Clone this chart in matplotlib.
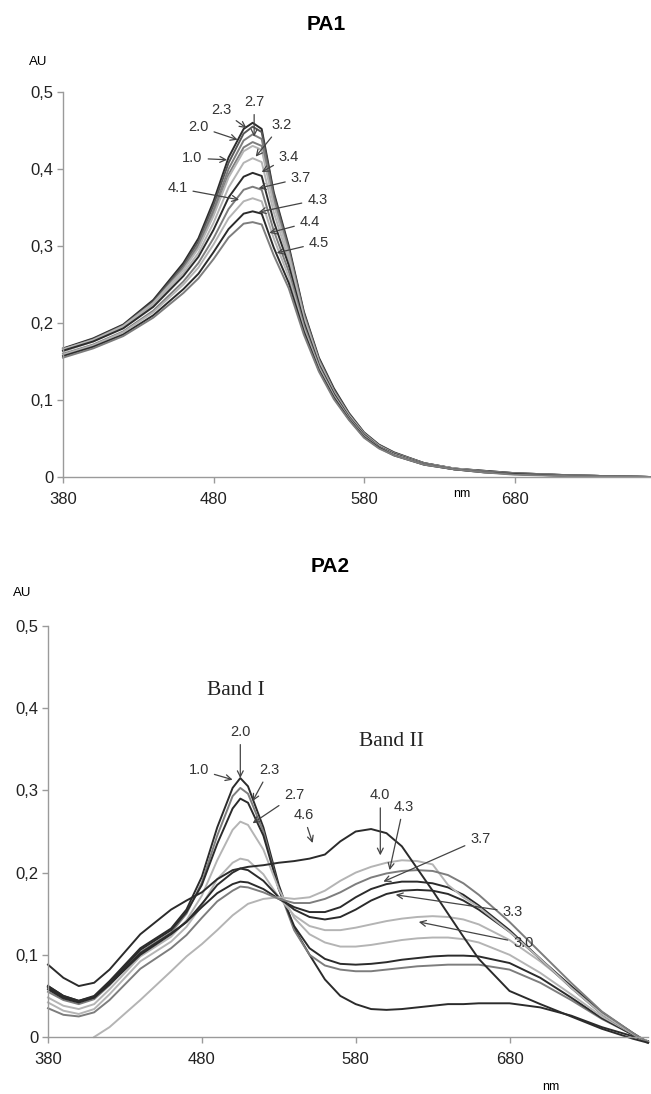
import numpy as np
import matplotlib.pyplot as plt
from matplotlib.ticker import FuncFormatter

plt.rcParams['font.family'] = ['Liberation Sans', 'DejaVu Sans']

# =============================================================================
# DATA
# =============================================================================

# PA1 : wavelengths (nm) and absorbance (AU) per pH
wl_pa1 = [380, 400, 420, 440, 460, 470, 480, 490, 500, 506, 512, 520, 530,
          540, 550, 560, 570, 580, 590, 600, 620, 640, 660, 680, 720, 770]
ph_pa1 = ["2.7", "2.3", "2.0", "1.0", "3.2", "3.4", "3.7", "4.1", "4.3", "4.4", "4.5"]
abs_pa1_27 = [.167,.180,.198,.230,.278,.310,.358,.415,.452,.460,.452,.370,.300,.215,.155,.115,.083,.058,.042,.032,.018,.011,.008,.005,.002,.000]
abs_pa1_23 = [.166,.179,.197,.228,.275,.306,.353,.408,.446,.455,.448,.367,.297,.213,.153,.113,.082,.057,.041,.031,.018,.011,.008,.005,.002,.000]
abs_pa1_20 = [.165,.178,.196,.226,.272,.302,.347,.400,.437,.445,.439,.362,.294,.211,.152,.112,.081,.057,.041,.031,.018,.011,.007,.005,.002,.000]
abs_pa1_10 = [.164,.177,.195,.225,.270,.299,.342,.393,.428,.435,.430,.357,.291,.209,.151,.111,.080,.056,.040,.031,.017,.011,.007,.004,.002,.000]
abs_pa1_32 = [.166,.178,.196,.226,.269,.297,.339,.389,.423,.430,.425,.354,.289,.208,.150,.110,.080,.056,.040,.030,.017,.011,.007,.004,.002,.000]
abs_pa1_34 = [.163,.176,.194,.223,.265,.291,.330,.376,.408,.414,.409,.344,.282,.205,.148,.109,.079,.055,.040,.030,.017,.010,.007,.004,.002,.000]
abs_pa1_37 = [.164,.176,.193,.221,.261,.286,.321,.363,.390,.395,.391,.332,.275,.201,.146,.108,.078,.055,.039,.030,.017,.010,.007,.004,.002,.000]
abs_pa1_41 = [.160,.172,.189,.216,.254,.278,.310,.348,.373,.377,.373,.320,.267,.197,.144,.106,.077,.054,.039,.029,.017,.010,.007,.004,.002,.000]
abs_pa1_43 = [.159,.171,.188,.214,.250,.272,.302,.336,.358,.362,.358,.310,.260,.193,.142,.105,.076,.053,.038,.029,.016,.010,.006,.004,.001,.000]
abs_pa1_44 = [.157,.169,.185,.210,.244,.264,.292,.322,.342,.345,.342,.298,.252,.189,.139,.103,.075,.052,.038,.028,.016,.010,.006,.004,.001,.000]
abs_pa1_45 = [.155,.167,.183,.207,.239,.258,.283,.311,.329,.331,.328,.288,.245,.185,.137,.101,.074,.051,.037,.028,.016,.010,.006,.003,.001,.000]
abs_pa1 = [abs_pa1_27, abs_pa1_23, abs_pa1_20, abs_pa1_10, abs_pa1_32, abs_pa1_34,
           abs_pa1_37, abs_pa1_41, abs_pa1_43, abs_pa1_44, abs_pa1_45]

# PA2 : wavelengths (nm) and absorbance (AU) per pH
wl_pa2 = [380, 390, 400, 410, 420, 440, 460, 470, 480, 490, 500, 505, 510, 520, 530, 540, 550,
          560, 570, 580, 590, 600, 610, 620, 630, 640, 650, 660, 680, 700, 720, 740, 760, 770]
ph_pa2 = ["1.0", "2.0", "2.3", "2.7", "3.0", "3.3", "3.7", "4.0", "4.3", "4.6"]
abs_pa2_10 = [.062,.050,.044,.050,.068,.108,.132,.155,.195,.255,.303,.315,.305,.255,.185,.132,.100,.070,.050,.040,.034,.033,.034,.036,.038,.040,.040,.041,.041,.036,.026,.012,.001,-.005]
abs_pa2_20 = [.055,.045,.040,.046,.063,.103,.127,.150,.188,.245,.293,.303,.296,.250,.180,.130,.100,.087,.082,.080,.080,.082,.084,.086,.087,.088,.088,.088,.082,.066,.045,.022,.003,-.006]
abs_pa2_23 = [.058,.047,.042,.048,.066,.106,.130,.152,.185,.235,.278,.290,.285,.245,.180,.135,.108,.095,.089,.088,.089,.091,.094,.096,.098,.099,.099,.098,.090,.072,.048,.023,.003,-.006]
abs_pa2_27 = [.048,.038,.034,.040,.058,.098,.122,.142,.172,.215,.252,.262,.258,.228,.180,.145,.125,.115,.110,.110,.112,.115,.118,.120,.121,.121,.119,.115,.100,.078,.052,.025,.004,-.006]
abs_pa2_30 = [.042,.032,.028,.034,.052,.092,.116,.134,.160,.192,.212,.217,.215,.198,.170,.148,.135,.130,.130,.133,.137,.141,.144,.146,.147,.146,.143,.137,.118,.092,.062,.030,.005,-.006]
abs_pa2_33 = [.060,.048,.043,.048,.064,.100,.125,.140,.162,.185,.200,.205,.203,.190,.170,.155,.146,.143,.146,.155,.166,.174,.178,.179,.178,.174,.166,.155,.128,.095,.062,.030,.005,-.007]
abs_pa2_37 = [.062,.050,.044,.049,.065,.102,.126,.140,.158,.175,.186,.189,.188,.180,.168,.158,.152,.152,.158,.170,.180,.186,.189,.189,.187,.182,.173,.160,.130,.095,.060,.028,.004,-.007]
abs_pa2_40 = [np.nan,np.nan,np.nan,.000,.012,.045,.080,.098,.113,.130,.148,.155,.162,.168,.170,.168,.170,.178,.190,.200,.207,.212,.215,.214,.210,.185,.170,.158,.128,.095,.060,.028,.004,-.007]
abs_pa2_43 = [.035,.027,.025,.030,.045,.083,.108,.124,.145,.165,.178,.183,.182,.176,.168,.163,.163,.168,.176,.186,.194,.199,.202,.203,.202,.197,.187,.173,.140,.103,.066,.031,.005,-.007]
abs_pa2_46 = [.088,.072,.062,.066,.082,.125,.155,.166,.176,.192,.203,.205,.207,.209,.212,.214,.217,.222,.238,.250,.253,.248,.232,.205,.178,.150,.122,.095,.056,.040,.025,.010,-.002,-.007]
abs_pa2 = [abs_pa2_10, abs_pa2_20, abs_pa2_23, abs_pa2_27, abs_pa2_30,
           abs_pa2_33, abs_pa2_37, abs_pa2_40, abs_pa2_43, abs_pa2_46]

xticks = [380, 480, 580, 680]
yticks = [0, 0.1, 0.2, 0.3, 0.4, 0.5]

# =============================================================================
# STYLE / LAYOUT
# =============================================================================

DARK, MID, LIGHT = "#2b2b2b", "#7d7d7d", "#b4b4b4"
col_pa1 = [DARK, "#555555", MID, MID, LIGHT, LIGHT, DARK, MID, LIGHT, DARK, MID]
col_pa2 = [DARK, MID, DARK, LIGHT, LIGHT, DARK, DARK, LIGHT, MID, DARK]

# label text position and arrow tip, (nm, AU)
lab_pa1 = {
    "2.7": ((507, 0.487), (507, 0.442)),
    "2.3": ((485, 0.477), (502, 0.453)),
    "2.0": ((470, 0.455), (496, 0.438)),
    "1.0": ((466, 0.414), (489, 0.412)),
    "4.1": ((456, 0.375), (497, 0.360)),
    "3.2": ((525, 0.457), (508, 0.416)),
    "3.4": ((530, 0.416), (512, 0.396)),
    "3.7": ((538, 0.388), (510, 0.375)),
    "4.3": ((549, 0.360), (510, 0.344)),
    "4.4": ((544, 0.331), (517, 0.317)),
    "4.5": ((550, 0.304), (522, 0.291)),
}
lab_pa2 = {
    "2.0": ((505, 0.371), (505, 0.315)),
    "1.0": ((478, 0.325), (500, 0.313)),
    "2.3": ((524, 0.325), (513, 0.287)),
    "2.7": ((540, 0.294), (513, 0.260)),
    "4.6": ((546, 0.270), (552, 0.236)),
    "4.0": ((596, 0.294), (596, 0.221)),
    "4.3": ((611, 0.280), (602, 0.203)),
    "3.7": ((661, 0.241), (598, 0.189)),
    "3.3": ((682, 0.152), (606, 0.173)),
    "3.0": ((689, 0.114), (621, 0.140)),
}

W, H = 651, 1094


def fmt_y(v, pos):
    if abs(v) < 1e-9:
        return "0"
    return f"{v:.1f}".replace(".", ",")


def style_axes(ax):
    ax.set_xlim(380, 770)
    ax.set_ylim(0, 0.5)
    ax.set_xticks(xticks)
    ax.set_yticks(yticks)
    ax.yaxis.set_major_formatter(FuncFormatter(fmt_y))
    for s in ["top", "right"]:
        ax.spines[s].set_visible(False)
    for s in ["left", "bottom"]:
        ax.spines[s].set_color("#9a9a9a")
        ax.spines[s].set_linewidth(1.0)
    ax.tick_params(axis="both", colors="#9a9a9a", labelcolor="#222222",
                   labelsize=12, length=4, width=1.0, direction="out")
    ax.tick_params(axis="x", pad=7)
    ax.tick_params(axis="y", pad=3)


def add_labels(ax, labels):
    for txt, (pt_txt, pt_tip) in labels.items():
        ax.annotate(txt, xy=pt_tip, xytext=pt_txt, fontsize=10.5, color="#333333",
                    ha="center", va="center", annotation_clip=False,
                    arrowprops=dict(arrowstyle="->", color="#444444", lw=0.9,
                                    shrinkA=2, shrinkB=0))


fig = plt.figure(figsize=(W / 100, H / 100), dpi=100)

# =============================================================================
# PA1
# =============================================================================
ax1 = fig.add_axes([63 / W, 1 - 477 / H, 587 / W, 385 / H])
for vals, c in zip(abs_pa1, col_pa1):
    ax1.plot(wl_pa1, vals, color=c, lw=1.4, clip_on=False)
style_axes(ax1)
add_labels(ax1, lab_pa1)

fig.text(326 / W, 1 - 24 / H, "PA1", ha="center", va="center", fontsize=15, fontweight="bold")
fig.text(38 / W, 1 - 62 / H, "AU", ha="center", va="center", fontsize=9.5)
fig.text(462 / W, 1 - 494 / H, "nm", ha="center", va="center", fontsize=9)

# =============================================================================
# PA2
# =============================================================================
ax2 = fig.add_axes([48 / W, 1 - 1037 / H, 600 / W, 411 / H])
for vals, c in zip(abs_pa2, col_pa2):
    ax2.plot(wl_pa2, vals, color=c, lw=1.4, clip_on=False)
style_axes(ax2)
add_labels(ax2, lab_pa2)

ax2.text(502, 0.422, "Band I", ha="center", va="center", fontsize=15.5,
         family=["Liberation Serif", "DejaVu Serif"], color="#222222")
ax2.text(603, 0.359, "Band II", ha="center", va="center", fontsize=15.5,
         family=["Liberation Serif", "DejaVu Serif"], color="#222222")

fig.text(330 / W, 1 - 566 / H, "PA2", ha="center", va="center", fontsize=15, fontweight="bold")
fig.text(22 / W, 1 - 593 / H, "AU", ha="center", va="center", fontsize=9.5)
fig.text(551 / W, 1 - 1087 / H, "nm", ha="center", va="center", fontsize=9)

fig.savefig("out.png", dpi=100)
